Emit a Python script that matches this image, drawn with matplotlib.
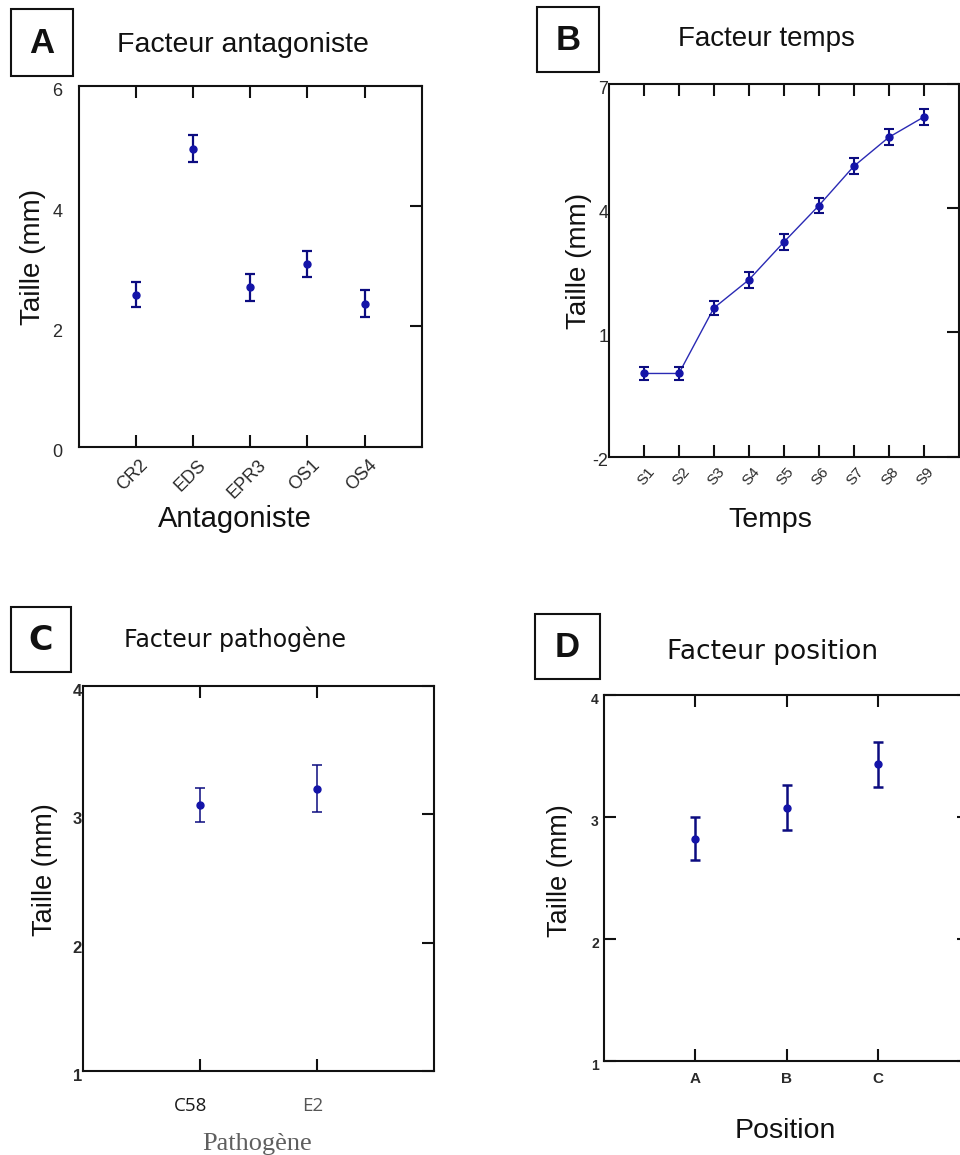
import matplotlib
matplotlib.use("Agg")
import matplotlib.pyplot as plt
from matplotlib.patches import Rectangle
from matplotlib.transforms import ScaledTranslation

# ---------------- data ----------------
antagonistes = ["CR2", "EDS", "EPR3", "OS1", "OS4"]
taille_antagoniste = [2.53, 4.96, 2.65, 3.04, 2.38]
erreur_antagoniste = [0.21, 0.22, 0.225, 0.22, 0.22]
yticks_antagoniste = [0, 2, 4, 6]

temps = ["S1", "S2", "S3", "S4", "S5", "S6", "S7", "S8", "S9"]
taille_temps = [0.01, 0.01, 1.59, 2.27, 3.18, 4.06, 5.01, 5.71, 6.20]
erreur_temps = [0.165, 0.165, 0.175, 0.19, 0.19, 0.18, 0.195, 0.195, 0.195]
yticks_temps = [-2, 1, 4, 7]

pathogenes = ["C58", "E2"]
taille_pathogene = [3.07, 3.20]
erreur_pathogene = [0.133, 0.185]
yticks_pathogene = [1, 2, 3, 4]

positions = ["A", "B", "C"]
taille_position = [2.82, 3.075, 3.43]
erreur_position = [0.177, 0.185, 0.183]
yticks_position = [1, 2, 3, 4]

# ---------------- figure ----------------
W, H = 960, 1155
DPI = 100
fig = plt.figure(figsize=(W / DPI, H / DPI), dpi=DPI)
fig.patch.set_facecolor("white")

SANS = "Liberation Sans"
WIDE = "DejaVu Sans"
MARK = "#1414a8"
ERR = "#0c0c80"
INK = "#111111"
TICKLAB = "#2a2a2a"


def rect(l, t, r, b):
    """Axes rectangle from pixel edges (origin top-left)."""
    return [l / W, 1 - b / H, (r - l) / W, (b - t) / H]


def ftext(x, y, s, **kw):
    fig.text(x / W, 1 - y / H, s, **kw)


def panel_box(l, t, r, b, letter, family=SANS, size=25):
    fig.add_artist(Rectangle((l / W, 1 - b / H), (r - l) / W, (b - t) / H,
                             transform=fig.transFigure, fill=False,
                             lw=1.5, edgecolor=INK))
    ftext((l + r) / 2, (t + b) / 2 + 1, letter, ha="center", va="center",
          fontsize=size, fontweight="bold", family=family, color=INK)


def nudge(labels, dx_px, dy_px):
    for lab in labels:
        lab.set_transform(lab.get_transform() +
                          ScaledTranslation(dx_px / DPI, dy_px / DPI,
                                            fig.dpi_scale_trans))


def frame(ax, lw=1.5):
    for s in ax.spines.values():
        s.set_linewidth(lw)
        s.set_color(INK)


TL = 8.6  # tick length (pt)

# ---------------- A : antagoniste ----------------
axA = fig.add_axes(rect(79, 86, 421.7, 446.7))
xa = list(range(1, len(antagonistes) + 1))
axA.errorbar(xa, taille_antagoniste, yerr=erreur_antagoniste, fmt="o",
             ms=5, color=MARK, ecolor=ERR, elinewidth=1.6, capsize=3.8,
             capthick=1.6)
axA.set_xlim(0, 6)
axA.set_ylim(0, 6)
axA.set_xticks(xa)
axA.set_xticklabels(antagonistes, rotation=45, ha="center", fontsize=13,
                    family=SANS, color=TICKLAB)
axA.set_yticks(yticks_antagoniste)
axA.set_yticklabels([str(v) for v in yticks_antagoniste], fontsize=13,
                    family=SANS, color=TICKLAB)
axA.tick_params(axis="x", top=True, bottom=True, direction="in", length=TL,
                width=1.5, pad=7, color=INK)
axA.tick_params(axis="y", left=False, right=True, direction="in", length=TL,
                width=1.5, pad=12, color=INK)
nudge(axA.get_yticklabels(), 0, -4)
nudge(axA.get_xticklabels(), -3, 0)
frame(axA)
panel_box(11, 9, 73, 76, "A")
ftext(243, 51.7, "Facteur antagoniste", ha="center", va="baseline",
      fontsize=20.5, family=SANS, color=INK)
ftext(33.5, 256.7, "Taille (mm)", ha="center", va="center", rotation=90,
      fontsize=20, family=SANS, color=INK)
ftext(234.5, 526.7, "Antagoniste", ha="center", va="baseline",
      fontsize=21, family=SANS, color=INK)

# ---------------- B : temps ----------------
axB = fig.add_axes(rect(609, 84, 958.5, 456.7))
xb = list(range(1, len(temps) + 1))
axB.plot(xb, taille_temps, "-", color="#2a2ab4", lw=1.0, zorder=2)
axB.errorbar(xb, taille_temps, yerr=erreur_temps, fmt="o", ms=5,
             color=MARK, ecolor=ERR, elinewidth=1.5, capsize=3.8,
             capthick=1.5, zorder=3)
axB.set_xlim(0, 10)
axB.set_ylim(-2, 7)
axB.set_xticks(xb)
axB.set_xticklabels(temps, rotation=50, ha="center", fontsize=11,
                    family=SANS, color=TICKLAB)
axB.set_yticks(yticks_temps)
axB.set_yticklabels([str(v) for v in yticks_temps], fontsize=13,
                    family=SANS, color=TICKLAB)
axB.tick_params(axis="x", top=True, bottom=True, direction="in", length=TL,
                width=1.5, pad=6, color=INK)
axB.tick_params(axis="y", left=False, right=True, direction="in", length=TL,
                width=1.5, pad=0.5, color=INK)
nudge(axB.get_yticklabels(), 0, -3)
nudge(axB.get_xticklabels(), 2, 0)
frame(axB)
panel_box(536.7, 6.7, 599, 72.3, "B")
ftext(766.5, 45.7, "Facteur temps", ha="center", va="baseline",
      fontsize=20, family=SANS, color=INK)
ftext(579, 260.7, "Taille (mm)", ha="center", va="center", rotation=90,
      fontsize=20, family=SANS, color=INK)
ftext(770, 527.3, "Temps", ha="center", va="baseline",
      fontsize=20.5, family=SANS, color=INK)

# ---------------- C : pathogene ----------------
axC = fig.add_axes(rect(83.3, 686, 434, 1071))
xc = list(range(1, len(pathogenes) + 1))
axC.errorbar(xc, taille_pathogene, yerr=erreur_pathogene, fmt="o", ms=5,
             color=MARK, ecolor=ERR, elinewidth=1.1, capsize=3.9,
             capthick=1.1)
axC.set_xlim(0, 3)
axC.set_ylim(1, 4)
axC.set_xticks(xc)
axC.set_xticklabels(pathogenes, fontsize=13.5, family="Open Sans")
axC.get_xticklabels()[0].set_color("#1a1a1a")
axC.get_xticklabels()[1].set_color("#555555")
axC.set_yticks(yticks_pathogene)
axC.set_yticklabels([str(v) for v in yticks_pathogene], fontsize=12,
                    family=SANS, color=TICKLAB, fontweight="bold")
axC.tick_params(axis="x", top=True, bottom=True, direction="in", length=TL,
                width=1.5, pad=19, color=INK)
axC.tick_params(axis="y", left=False, right=True, direction="in", length=TL,
                width=1.5, pad=1, color=INK)
nudge(axC.get_yticklabels(), 0, -4)
nudge(axC.get_xticklabels()[:1], -10, 0)
nudge(axC.get_xticklabels()[1:], -4, 0)
frame(axC)
panel_box(10.7, 606.7, 71.3, 671.7, "C", family=WIDE, size=24)
ftext(235, 646.7, "Facteur pathogène", ha="center", va="baseline",
      fontsize=17, family=WIDE, color=INK)
ftext(44.5, 870, "Taille (mm)", ha="center", va="center", rotation=90,
      fontsize=19.5, family=SANS, color=INK)
ftext(257, 1150, "Pathogène", ha="center", va="baseline",
      fontsize=19, family="Liberation Serif", color="#5f5f5f")

# ---------------- D : position ----------------
axD = fig.add_axes(rect(604.3, 694.7, 969, 1060.7))
xd = list(range(1, len(positions) + 1))
axD.errorbar(xd, taille_position, yerr=erreur_position, fmt="o", ms=5,
             color=MARK, ecolor=ERR, elinewidth=1.8, capsize=3.6,
             capthick=1.8)
axD.set_xlim(0, 4)
axD.set_ylim(1, 4)
axD.set_xticks(xd)
axD.set_xticklabels(positions, fontsize=11, family=SANS, color=TICKLAB,
                    fontweight="bold")
axD.set_yticks(yticks_position)
axD.set_yticklabels([str(v) for v in yticks_position], fontsize=10,
                    family=SANS, color=TICKLAB, fontweight="bold")
axD.tick_params(axis="x", top=True, bottom=True, direction="in", length=TL,
                width=1.5, pad=8, color=INK)
axD.tick_params(axis="y", left=True, right=True, direction="in", length=TL,
                width=1.5, pad=4, color=INK)
nudge(axD.get_yticklabels(), 0, -4)
frame(axD)
panel_box(534.7, 614, 600.3, 679, "D")
ftext(772.8, 659.3, "Facteur position", ha="center", va="baseline",
      fontsize=19, family=WIDE, color=INK)
ftext(560, 870.8, "Taille (mm)", ha="center", va="center", rotation=90,
      fontsize=19.5, family=SANS, color=INK)
ftext(785.3, 1138.3, "Position", ha="center", va="baseline",
      fontsize=20.5, family=SANS, color=INK)

fig.savefig("out.png", dpi=DPI, facecolor="white")
